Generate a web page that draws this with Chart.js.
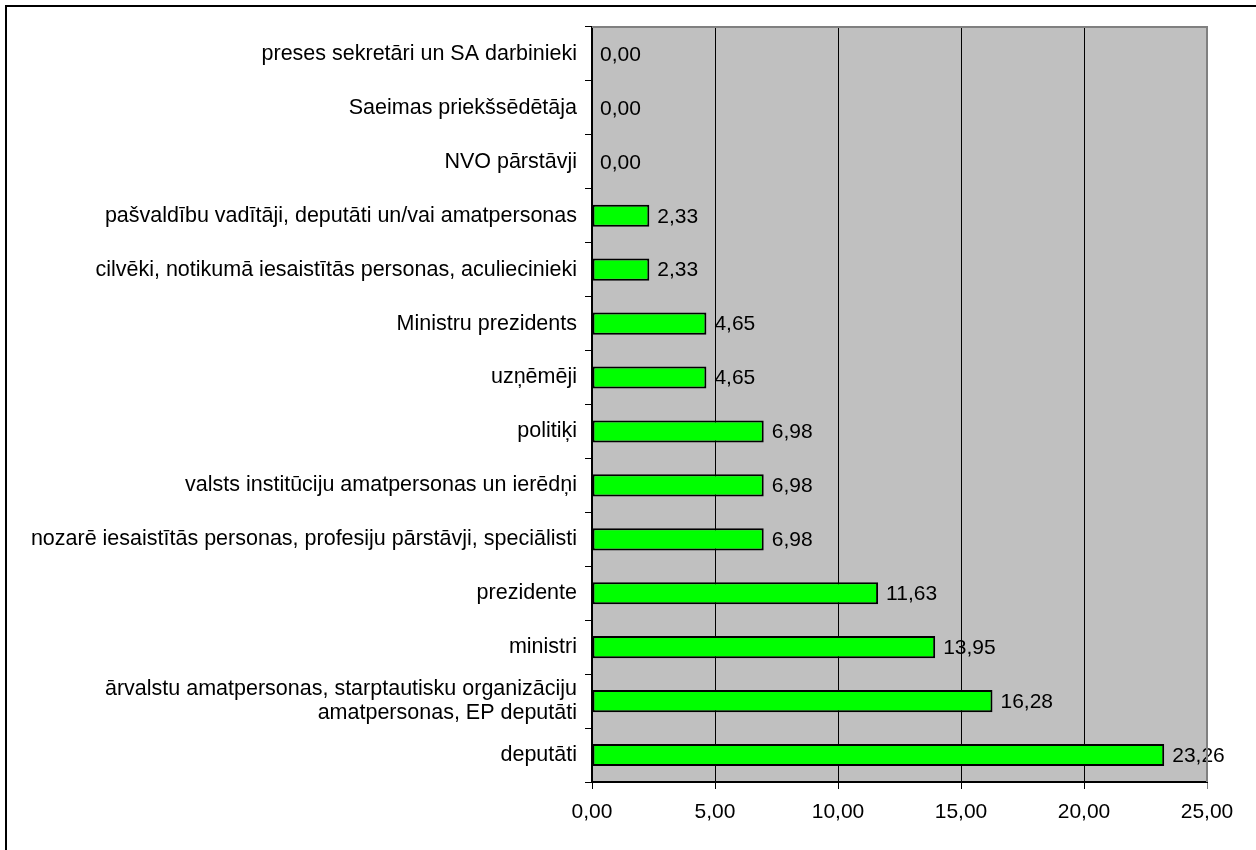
<!DOCTYPE html>
<html>
<head>
<meta charset="utf-8">
<script src="https://cdn.jsdelivr.net/npm/chart.js@4.4.1/dist/chart.umd.min.js"></script>
<style>
  html, body { margin: 0; padding: 0; background: #fff; }
  #wrap { position: relative; width: 1256px; height: 850px; }
</style>
</head>
<body>
<div id="wrap"><canvas id="chart" width="1256" height="850"></canvas></div>
<script>
// categories, top to bottom as in the picture
const categories = [
  'preses sekretāri un SA darbinieki',
  'Saeimas priekšsēdētāja',
  'NVO pārstāvji',
  'pašvaldību vadītāji, deputāti un/vai amatpersonas',
  'cilvēki, notikumā iesaistītās personas, aculiecinieki',
  'Ministru prezidents',
  'uzņēmēji',
  'politiķi',
  'valsts institūciju amatpersonas un ierēdņi',
  'nozarē iesaistītās personas, profesiju pārstāvji, speciālisti',
  'prezidente',
  'ministri',
  ['ārvalstu amatpersonas, starptautisku organizāciju', 'amatpersonas, EP deputāti'],
  'deputāti'
];
const percents = [0.00, 0.00, 0.00, 2.33, 2.33, 4.65, 4.65, 6.98, 6.98, 6.98, 11.63, 13.95, 16.28, 23.26];
const xTicks = [0, 5, 10, 15, 20, 25];

const FAMILY = '"Liberation Sans", Arial, sans-serif';
const FONT = { family: FAMILY, size: 21, lineHeight: 1.15 };
const CAT_FONT = { family: FAMILY, size: 21.5, lineHeight: 1.12 };
const fmt = v => v.toFixed(2).replace('.', ',');

// gray plot background + outer frame
const framePlugin = {
  id: 'frame',
  beforeDraw(chart) {
    const { ctx, chartArea: a } = chart;
    ctx.save();
    ctx.fillStyle = '#c0c0c0';
    ctx.fillRect(a.left, a.top, a.right - a.left, a.bottom - a.top);
    ctx.restore();
  },
  afterDraw(chart) {
    const { ctx, chartArea: a } = chart;
    ctx.save();
    ctx.strokeStyle = '#808080';
    ctx.lineWidth = 2;
    ctx.beginPath();
    ctx.moveTo(a.left, a.top);
    ctx.lineTo(a.right, a.top);
    ctx.lineTo(a.right, a.bottom);
    ctx.stroke();
    // outer chart border (left + top)
    ctx.strokeStyle = '#000';
    ctx.lineWidth = 2;
    ctx.beginPath();
    ctx.moveTo(6, 850);
    ctx.lineTo(6, 6);
    ctx.lineTo(1256, 6);
    ctx.stroke();
    ctx.restore();
  }
};

// value labels at the end of each bar
const valueLabels = {
  id: 'valueLabels',
  afterDatasetsDraw(chart) {
    const { ctx } = chart;
    const meta = chart.getDatasetMeta(0);
    ctx.save();
    ctx.font = `${FONT.size}px ${FONT.family}`;
    ctx.fillStyle = '#000';
    ctx.textAlign = 'left';
    ctx.textBaseline = 'middle';
    meta.data.forEach((bar, i) => {
      ctx.fillText(fmt(percents[i]), bar.x + 8, bar.y + 1);
    });
    ctx.restore();
  }
};

new Chart(document.getElementById('chart'), {
  type: 'bar',
  data: {
    labels: categories,
    datasets: [{
      data: percents,
      backgroundColor: '#00ff00',
      borderColor: '#000',
      borderWidth: c => (c.raw === 0 ? 0 : 2),
      borderSkipped: false,
      barPercentage: 0.41,
      categoryPercentage: 1
    }]
  },
  options: {
    indexAxis: 'y',
    responsive: false,
    animation: false,
    layout: { padding: { left: 0, right: 49, top: 27, bottom: 0 } },
    plugins: { legend: { display: false }, tooltip: { enabled: false } },
    scales: {
      x: {
        min: 0,
        max: 25,
        afterBuildTicks: s => { s.ticks = xTicks.map(v => ({ value: v })); },
        afterFit: s => { s.height = 68; },
        grid: {
          color: c => (c.index === xTicks.length - 1 ? '#808080' : '#000'),
          lineWidth: 1,
          tickLength: 7
        },
        border: { color: '#000', width: 2 },
        ticks: {
          color: '#000',
          font: FONT,
          padding: 11,
          callback: v => fmt(v)
        }
      },
      y: {
        afterFit: s => { s.width = 592; },
        grid: {
          offset: true,
          drawOnChartArea: false,
          color: '#000',
          tickLength: 7
        },
        border: { color: '#000', width: 2 },
        ticks: {
          color: '#000',
          font: CAT_FONT,
          padding: 8,
          autoSkip: false
        }
      }
    }
  },
  plugins: [framePlugin, valueLabels]
});
</script>
</body>
</html>
